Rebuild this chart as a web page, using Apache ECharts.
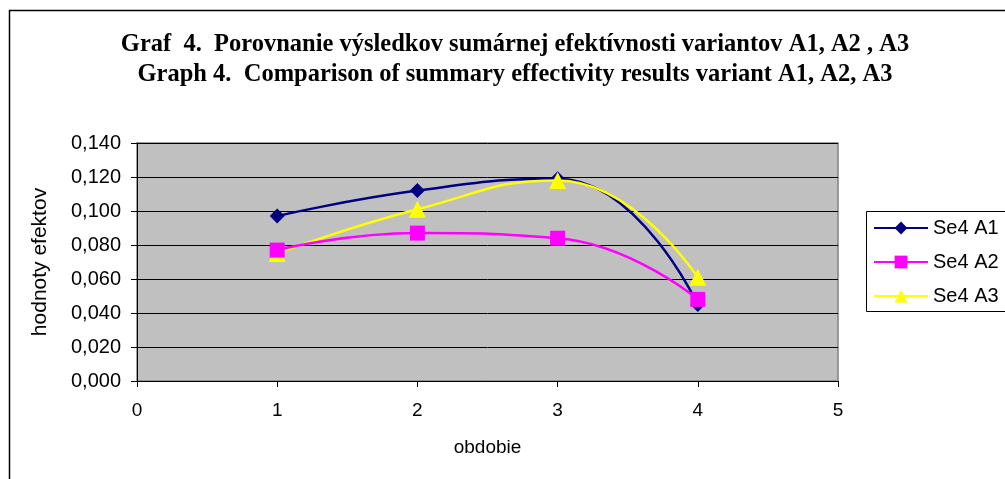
<!DOCTYPE html>
<html>
<head>
<meta charset="utf-8">
<script src="https://cdn.jsdelivr.net/npm/echarts@6/dist/echarts.min.js"></script>
<style>
  html, body { margin: 0; padding: 0; background: #fff; }
  #chart { width: 1005px; height: 479px; }
</style>
</head>
<body>
<div id="chart"></div>
<script>
const periods = [1, 2, 3, 4]
const seriesNames = ['Se4 A1', 'Se4 A2', 'Se4 A3']
const valuesA1 = [0.097, 0.112, 0.119, 0.045]
const valuesA2 = [0.077, 0.087, 0.084, 0.048]
const valuesA3 = [0.075, 0.101, 0.118, 0.061]
const titleLines = [
  'Graf  4.  Porovnanie výsledkov sumárnej efektívnosti variantov A1, A2 , A3',
  'Graph 4.  Comparison of summary effectivity results variant A1, A2, A3'
]

const colors = ['#000080', '#ff00ff', '#ffff00']
const symbols = ['diamond', 'rect', 'triangle']
const symbolSizes = [15, 15, 17]
const allValues = [valuesA1, valuesA2, valuesA3]

const chart = echarts.init(document.getElementById('chart'))

const series = seriesNames.map((name, i) => ({
  name,
  type: 'line',
  smooth: 0.5,
  data: periods.map((p, k) => [p, allValues[i][k]]),
  symbol: symbols[i],
  symbolSize: symbolSizes[i],
  lineStyle: { color: colors[i], width: 2.5 },
  itemStyle: { color: colors[i] },
  z: 3 + (i === 1 ? 2 : i === 2 ? 1 : 0)
}))

const titleText = (text, y) => ({
  type: 'text',
  x: 515,
  y,
  style: {
    text,
    font: 'bold 24.5px "Liberation Serif"',
    fill: '#000',
    align: 'center',
    verticalAlign: 'middle'
  }
})

chart.setOption({
  animation: false,
  textStyle: { fontFamily: 'Liberation Sans' },
  graphic: [
    {
      type: 'rect',
      shape: { x: 9.5, y: 10.5, width: 1100, height: 600 },
      style: { fill: 'none', stroke: '#000', lineWidth: 1.5 },
      silent: true
    },
    {
      type: 'rect',
      shape: { x: 866.5, y: 211.5, width: 200, height: 100 },
      style: { fill: '#fff', stroke: '#000', lineWidth: 1 },
      silent: true,
      z: 0
    },
    titleText(titleLines[0], 45),
    titleText(titleLines[1], 75)
  ],
  legend: {
    orient: 'vertical',
    left: 873,
    top: 218,
    padding: 0,
    itemWidth: 54,
    itemHeight: 16,
    itemGap: 14,
    data: seriesNames,
    textStyle: { fontSize: 20, color: '#000', fontFamily: 'Liberation Sans' },
    z: 5
  },
  grid: {
    left: 137,
    right: 167,
    top: 143,
    bottom: 98,
    show: true,
    backgroundColor: '#c0c0c0',
    borderColor: '#808080',
    borderWidth: 1.5
  },
  xAxis: {
    type: 'value',
    min: 0,
    max: 5,
    interval: 1,
    name: 'obdobie',
    nameLocation: 'middle',
    nameGap: 57,
    nameTextStyle: { fontSize: 19, color: '#000' },
    axisLine: { lineStyle: { color: '#000', width: 1 } },
    axisTick: { show: true, length: 6, lineStyle: { color: '#000' } },
    axisLabel: { fontSize: 19, color: '#000', margin: 20 },
    splitLine: { show: false }
  },
  yAxis: {
    type: 'value',
    min: 0,
    max: 0.14,
    interval: 0.02,
    name: 'hodnoty efektov',
    nameLocation: 'middle',
    nameGap: 86,
    nameTextStyle: { fontSize: 21, color: '#000' },
    axisLine: { show: true, lineStyle: { color: '#000', width: 1 } },
    axisTick: { show: true, length: 6, lineStyle: { color: '#000' } },
    axisLabel: {
      fontSize: 20,
      color: '#000',
      margin: 16,
      formatter: (v) => v.toFixed(3).replace('.', ',')
    },
    splitLine: { show: true, lineStyle: { color: '#000', width: 1 } }
  },
  series
})
</script>
</body>
</html>
